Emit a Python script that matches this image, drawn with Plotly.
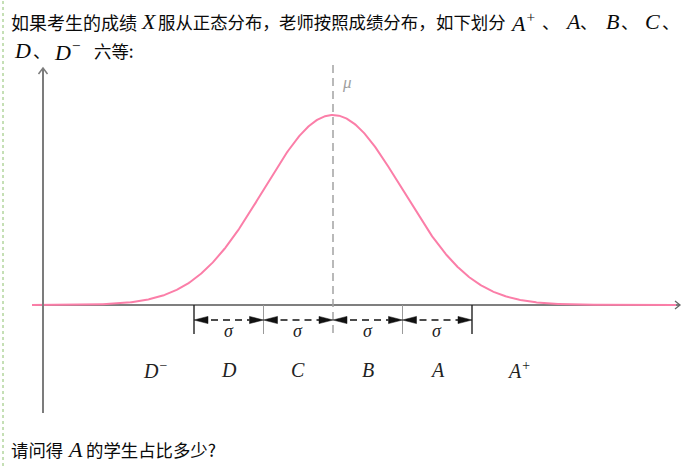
import numpy as np
import plotly.graph_objects as go

# ---------------- data ----------------
MU = 0.0
SIGMA = 1.0
boundaries = [-2, -1, 0, 1, 2]            # interval edges, in sigma units from mu
grades = ["D<sup>−</sup>", "D", "C", "B", "A", "A<sup>+</sup>"]
grade_pos = [-2.56, -1.5, -0.5, 0.5, 1.5, 2.68]   # label centres, sigma units
sigma_label = "σ"
mu_label = "μ"

# text segments: (text, is_math)
line1_segments = [("如果考生的成绩", False), ("X", True), ("服从正态分布，", False),
                  ("老师按照成绩分布，", False), ("如下划分", False),
                  ("A<sup>+</sup>", True), ("、", False), ("A", True), ("、", False),
                  ("B", True), ("、", False), ("C", True), ("、", False)]
line2_segments = [("D", True), ("、", False), ("D<sup>−</sup>", True), ("六等:", False)]
line3_segments = [("请问得", False), ("A", True), ("的学生占比多少?", False)]

# ---------------- layout mapping (pixels -> data) ----------------
W, H = 698, 466
PX_MU, PX_SIG = 333, 69.5
PY_AXIS, PY_PEAK = 305, 190


def X(px):
    return (px - PX_MU) / PX_SIG


def Y(py):
    return (PY_AXIS - py) / PY_PEAK


def DX(d):
    return d / PX_SIG


def DY(d):
    return d / PY_PEAK


CJK = "Noto Sans CJK SC"
SERIF = "Liberation Serif"


def m(t, size=22):
    return f'<span style="font-family:{SERIF};font-style:italic;font-size:{size}px">{t}</span>'


PINK = "#fb7ea8"

# normal curve
xs = np.linspace(X(32), X(676), 700)
ys = np.exp(-0.5 * ((xs - MU) / SIGMA) ** 2)

fig = go.Figure()
fig.add_trace(go.Scatter(x=xs, y=ys, mode="lines",
                         line=dict(color=PINK, width=2), hoverinfo="skip"))

shapes = []
# green dashed left border
shapes.append(dict(type="line", xref="paper", yref="paper", x0=3 / W, x1=3 / W, y0=0, y1=1,
                   line=dict(color="#8cc06c", width=1, dash="3px,3px")))
# x axis
shapes.append(dict(type="line", x0=X(32), x1=X(679), y0=0, y1=0, layer="below",
                   line=dict(color="#555555", width=1.5)))
shapes.append(dict(type="path",
                   path=f"M{X(675)},{Y(301)} L{X(680)},{Y(305)} L{X(675)},{Y(309)}",
                   line=dict(color="#666666", width=1.3)))
# y axis
shapes.append(dict(type="line", x0=X(43), x1=X(43), y0=Y(413), y1=Y(69),
                   line=dict(color="#7c7c7c", width=2)))
shapes.append(dict(type="path",
                   path=f"M{X(38.5)},{Y(74)} L{X(43)},{Y(68)} L{X(47.5)},{Y(74)}",
                   line=dict(color="#7c7c7c", width=1.5)))
# mu dashed line
shapes.append(dict(type="line", x0=MU, x1=MU, y0=Y(65), y1=Y(333),
                   line=dict(color="#a3a3a3", width=1.5, dash="8px,5px")))
# boundary ticks
for b in boundaries:
    if b == 0:
        continue
    outer = abs(b) == max(boundaries)
    shapes.append(dict(type="line", x0=MU + b * SIGMA, x1=MU + b * SIGMA, y0=0, y1=Y(334),
                       line=dict(color="#222222" if outer else "#9a9a9a",
                                 width=1.4 if outer else 1)))
# double-headed dashed arrows
ay = Y(320)
tw, th = 14, 3.6
for a, b in zip(boundaries[:-1], boundaries[1:]):
    xa, xb = MU + a * SIGMA, MU + b * SIGMA
    shapes.append(dict(type="path",
                       path=f"M{xa},{ay} L{xa + DX(tw)},{ay + DY(th)} L{xa + DX(tw)},{ay - DY(th)} Z",
                       fillcolor="#111111", line=dict(color="#111111", width=0.5)))
    shapes.append(dict(type="path",
                       path=f"M{xb},{ay} L{xb - DX(tw)},{ay + DY(th)} L{xb - DX(tw)},{ay - DY(th)} Z",
                       fillcolor="#111111", line=dict(color="#111111", width=0.5)))
    shapes.append(dict(type="line", x0=xa + DX(tw + 3), x1=xb - DX(tw), y0=ay, y1=ay,
                       line=dict(color="#111111", width=1.5, dash="7px,5px")))

annotations = []
# sigma labels
for a, b in zip(boundaries[:-1], boundaries[1:]):
    annotations.append(dict(x=MU + (a + b) / 2 * SIGMA, y=Y(331), text=m(sigma_label, 18),
                            showarrow=False, font=dict(color="#222222")))
# grade labels
for g, p in zip(grades, grade_pos):
    annotations.append(dict(x=MU + p * SIGMA, y=Y(370), text=m(g, 20),
                            showarrow=False, font=dict(color="#222222")))
# mu label
annotations.append(dict(x=X(347), y=Y(82), text=m(mu_label, 17), showarrow=False,
                        font=dict(color="#a0a0a0")))

# text lines, each segment placed at its left pixel edge with its font size
line1_x = [9, 139, 156, 277, 434, 508, 540, 563, 578, 604, 619, 643, 660]
line1_fs = [18, 18, 17.4, 17.4, 17.4, 18, 17.4, 18, 17.4, 18, 17.4, 18, 17.4]
line2_x = [12, 31, 52, 92]
line2_fs = [18, 17.4, 18, 17.4]
line3_x = [9, 65, 84]
line3_fs = [17.4, 18, 17.4]
for segs, xs_px, fss, py in [(line1_segments, line1_x, line1_fs, 22),
                             (line2_segments, line2_x, line2_fs, 51),
                             (line3_segments, line3_x, line3_fs, 449)]:
    for (txt, is_math), px, fs in zip(segs, xs_px, fss):
        annotations.append(dict(xref="paper", yref="paper", x=px / W, y=1 - py / H,
                                xanchor="left", yanchor="middle",
                                text=m(txt) if is_math else txt, showarrow=False,
                                font=dict(family=CJK, size=fs, color="#0a0a0a")))

fig.update_layout(
    width=W, height=H,
    margin=dict(l=0, r=0, t=0, b=0),
    paper_bgcolor="white", plot_bgcolor="rgba(0,0,0,0)",
    showlegend=False,
    xaxis=dict(range=[X(0), X(W)], visible=False, fixedrange=True),
    yaxis=dict(range=[Y(H), Y(0)], visible=False, fixedrange=True),
    shapes=shapes, annotations=annotations,
    font=dict(family=CJK),
)

fig.write_html("out.html", config={"displayModeBar": False},
               post_script="document.body.style.margin='0';document.body.style.overflow='hidden';")
